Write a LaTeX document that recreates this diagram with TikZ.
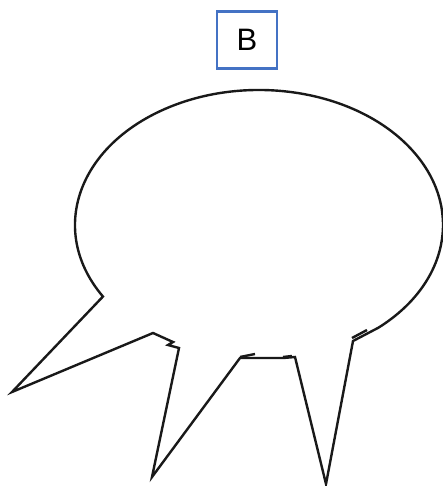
\documentclass[tikz,border=0pt]{standalone}
\usepackage{fontspec}
\setmainfont{Liberation Sans}
\usepackage{xcolor}
\usepackage{tikz}
\definecolor{BoxBlue}{RGB}{68,114,196}

\tikzset{
  labelbox/.style={draw=BoxBlue, line width=2.4pt, minimum width=60pt, minimum height=57pt,
    inner sep=0pt, font=\fontsize{31}{33}\selectfont},
  bubble/.style={draw=black!90, line width=2.4pt, line join=miter}
}

\begin{document}
\begin{tikzpicture}[x=1pt, y=1pt]
  \useasboundingbox (0,0) rectangle (443,-486);
  \node[labelbox] (lbl) at (247,-40) {B};

  % speech bubble with three tails
  \coordinate (c) at (259,-225);
  \draw[bubble] (c) ++(212:184 and 135) coordinate (j1)
    arc[start angle=212, end angle=-49.5, x radius=184, y radius=135] coordinate (j2)
    -- (353,-341) -- (326,-484) -- (295,-357) -- (283,-358) -- (240,-358)
    -- (152,-477) -- (179,-348) -- (168,-345) -- (173,-342) -- (153,-333)
    -- (12,-392) -- cycle;
  % small stray strokes at the joins
  \draw[bubble] (352,-338) -- (367,-330);
  \draw[bubble] (240,-357) -- (255,-354);
  \draw[bubble] (283,-357) -- (292,-356);
\end{tikzpicture}
\end{document}
